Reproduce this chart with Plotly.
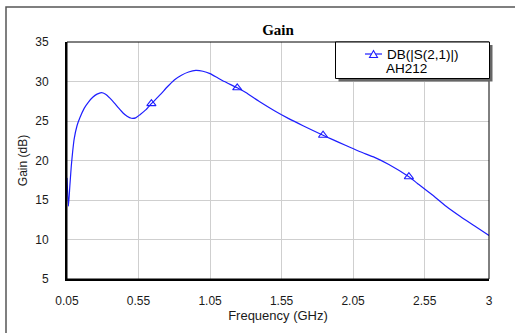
import plotly.graph_objects as go

# Data
freq_ghz = [0.05, 0.06, 0.07, 0.08, 0.09, 0.10, 0.12, 0.14, 0.17, 0.20, 0.23, 0.26, 0.29,
            0.32, 0.35, 0.38, 0.41, 0.44, 0.47, 0.50, 0.53, 0.56, 0.60, 0.64, 0.70, 0.75,
            0.80, 0.85, 0.90, 0.95, 1.00, 1.05, 1.10, 1.15, 1.24, 1.30, 1.40, 1.50, 1.60,
            1.70, 1.84, 1.90, 2.00, 2.10, 2.20, 2.30, 2.44, 2.50, 2.60, 2.70, 2.80, 2.90, 3.00]
gain_db = [17.8, 14.2, 16.8, 19.3, 21.2, 22.7, 24.4, 25.4, 26.6, 27.4, 28.0, 28.4, 28.6,
           28.4, 27.9, 27.3, 26.65, 26.05, 25.6, 25.35, 25.4, 25.8, 26.4, 27.2, 28.3, 29.3,
           30.2, 30.8, 31.2, 31.4, 31.3, 31.0, 30.5, 30.0, 29.2, 28.6, 27.4, 26.3, 25.3,
           24.4, 23.2, 22.7, 21.9, 21.1, 20.4, 19.5, 17.95, 17.1, 15.7, 14.2, 12.9, 11.7, 10.5]
marker_freq = [0.64, 1.24, 1.84, 2.44]
marker_gain = [27.2, 29.2, 23.2, 17.95]

x_ticks = [0.05, 0.55, 1.05, 1.55, 2.05, 2.55, 3.0]
x_ticktext = ["0.05", "0.55", "1.05", "1.55", "2.05", "2.55", "3"]
y_ticks = [5, 10, 15, 20, 25, 30, 35]

series_name = "DB(|S(2,1)|)"
series_sub = "AH212"

BLUE = "rgb(30,30,255)"
W, H = 515, 333
L, R, T, B = 67, 489, 42, 279


def px(xp):
    return (xp - L) / (R - L)


def py(yp):
    return (B - yp) / (B - T)


fig = go.Figure()
fig.add_trace(go.Scatter(x=freq_ghz, y=gain_db, mode="lines",
                         line=dict(color=BLUE, width=1.2, shape="spline", smoothing=0.5),
                         showlegend=False, hoverinfo="skip"))
fig.add_trace(go.Scatter(x=marker_freq, y=marker_gain, mode="markers",
                         marker=dict(symbol="triangle-up-open", size=8, color=BLUE, line=dict(width=1.1)),
                         showlegend=False))

font_tick = dict(family="Liberation Sans, Arial, sans-serif", size=12, color="#1a1a1a")

shapes = [
    # outer frame (cut off at right/bottom)
    dict(type="rect", xref="paper", yref="paper", x0=px(6), x1=px(540), y0=py(360), y1=py(7),
         line=dict(color="#555555", width=1.5), layer="below"),
    # plot border (top/right thin)
    dict(type="rect", xref="paper", yref="paper", x0=0, x1=1, y0=0, y1=1,
         line=dict(color="black", width=1), layer="above"),
    # legend shadow
    dict(type="rect", xref="paper", yref="paper", x0=px(338.5), x1=px(492.5), y0=py(81.5), y1=py(45),
         line=dict(width=0), fillcolor="#666666", layer="above"),
    # legend box
    dict(type="rect", xref="paper", yref="paper", x0=px(335.5), x1=px(489.5), y0=py(78.5), y1=py(42),
         line=dict(color="black", width=1), fillcolor="white", layer="above"),
    # legend line sample
    dict(type="line", xref="paper", yref="paper", x0=px(365), x1=px(382), y0=py(54), y1=py(54),
         line=dict(color=BLUE, width=1.2), layer="above"),
    # legend triangle sample
    dict(type="path", xref="paper", yref="paper",
         path=f"M {px(369.5)},{py(57.5)} L {px(377.5)},{py(57.5)} L {px(373.5)},{py(50.5)} Z",
         line=dict(color=BLUE, width=1.1), fillcolor="white", layer="above"),
]

annotations = [
    dict(text=series_name, xref="paper", yref="paper", x=px(385), y=py(54.5), xanchor="left",
         yanchor="middle", showarrow=False, font=dict(family="Liberation Sans, Arial", size=13.5, color="black")),
    dict(text=series_sub, xref="paper", yref="paper", x=px(384), y=py(68), xanchor="left",
         yanchor="middle", showarrow=False, font=dict(family="Liberation Sans, Arial", size=13.5, color="black")),
]

fig.update_layout(
    width=W, height=H,
    margin=dict(l=L, r=W - R, t=T, b=H - B, pad=0),
    paper_bgcolor="white", plot_bgcolor="white",
    title=dict(text="<b>Gain</b>", x=278 / W, xanchor="center", y=1 - 30 / H, yanchor="middle",
               font=dict(family="Liberation Serif, Times New Roman, serif", size=15, color="black")),
    shapes=shapes, annotations=annotations,
    xaxis=dict(range=[0.05, 3.0], tickvals=x_ticks, ticktext=x_ticktext, showgrid=True,
               gridcolor="#cfcfcf", gridwidth=1.3, zeroline=False, showline=True, linecolor="black",
               linewidth=2, ticks="", ticklabelstandoff=10, tickfont=font_tick,
               title=dict(text="Frequency (GHz)", standoff=2,
                          font=dict(family="Liberation Sans, Arial", size=13, color="#1a1a1a"))),
    yaxis=dict(range=[5, 35], tickvals=y_ticks, showgrid=True, gridcolor="#cfcfcf", gridwidth=1.3,
               zeroline=False, showline=True, linecolor="black", linewidth=2, ticks="",
               ticklabelstandoff=14, tickfont=font_tick,
               title=dict(text="Gain (dB)", standoff=5,
                          font=dict(family="Liberation Sans, Arial", size=12, color="#1a1a1a"))),
)

fig.write_html("out.html")
